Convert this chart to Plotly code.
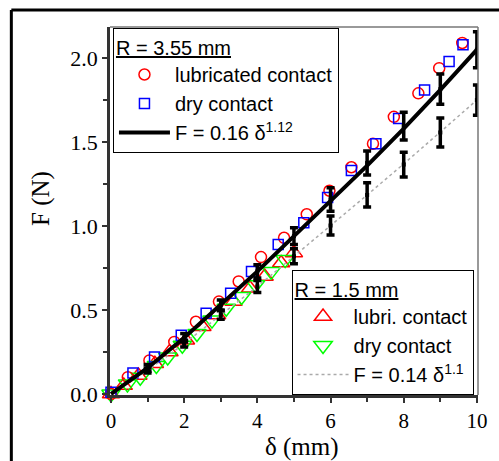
import plotly.graph_objects as go

# ---------------- data ----------------
# R = 3.55 mm
lub355_x = [0, 0.46, 1.05, 1.73, 2.32, 2.95, 3.49, 4.1, 4.73, 5.35, 5.97, 6.57, 7.16, 7.73, 8.4, 8.97, 9.6, 10.05]
lub355_y = [0.0, 0.10, 0.20, 0.31, 0.43, 0.55, 0.67, 0.815, 0.93, 1.07, 1.21, 1.35, 1.49, 1.65, 1.79, 1.94, 2.09, 2.18]
dry355_x = [0, 0.6, 1.19, 1.92, 2.6, 3.27, 3.84, 4.57, 5.27, 5.92, 6.57, 7.24, 7.86, 8.57, 9.24, 9.62]
dry355_y = [0.01, 0.125, 0.22, 0.35, 0.48, 0.60, 0.73, 0.89, 1.02, 1.17, 1.33, 1.49, 1.64, 1.81, 1.98, 2.08]
fit355_x = [0, 1, 2, 3, 4, 5, 6, 7, 8, 9, 10]
fit355_y = [0.0, 0.155, 0.335, 0.53, 0.73, 0.94, 1.15, 1.36, 1.58, 1.81, 2.05]
err355_x = [1, 2, 3, 4, 5, 6, 7, 8, 9, 10]
err355_y = [0.155, 0.335, 0.53, 0.73, 0.94, 1.158, 1.375, 1.595, 1.815, 2.05]
err355_e = [0.02, 0.025, 0.03, 0.04, 0.05, 0.07, 0.071, 0.083, 0.09, 0.107]

# R = 1.5 mm
lub15_x = [0, 0.35, 0.75, 1.2, 1.6, 2.05, 2.5, 2.9, 3.35, 3.8, 4.2, 4.65, 5.0]
lub15_y = [0.0, 0.05, 0.11, 0.18, 0.25, 0.32, 0.40, 0.47, 0.55, 0.63, 0.70, 0.78, 0.84]
dry15_x = [0, 0.45, 0.8, 1.24, 1.55, 1.95, 2.35, 2.76, 3.15, 3.57, 3.95, 4.38, 4.76]
dry15_y = [0.0, 0.06, 0.10, 0.17, 0.22, 0.29, 0.36, 0.44, 0.51, 0.58, 0.65, 0.73, 0.80]
fit15_x = [0, 1, 2, 3, 4, 5, 6, 7, 8, 9, 10]
fit15_y = [0.0, 0.14, 0.30, 0.47, 0.64, 0.82, 1.0, 1.185, 1.37, 1.56, 1.75]
err15_x = [1, 2, 3, 4, 5, 6, 7, 8, 9, 10]
err15_y = [0.14, 0.30, 0.47, 0.64, 0.82, 1.003, 1.185, 1.366, 1.557, 1.75]
err15_e = [0.015, 0.02, 0.025, 0.035, 0.045, 0.057, 0.072, 0.074, 0.086, 0.09]

x_ticks = [0, 2, 4, 6, 8, 10]
y_ticks = [0.0, 0.5, 1.0, 1.5, 2.0]
y_ticklabels = ["0.0", "0.5", "1.0", "1.5", "2.0"]

SERIF = "Liberation Serif, Times New Roman, serif"
SANS = "Liberation Sans, Arial, sans-serif"

W, H = 499, 461
ML, MT, PW, PH = 110, 27, 373, 368


def px_x(xpix):  # window pixel -> paper x
    return (xpix - ML) / PW


def px_y(ypix):  # window pixel -> paper y
    return 1 - (ypix - MT) / PH


fig = go.Figure()

# R = 1.5 mm markers
fig.add_trace(go.Scatter(x=lub15_x, y=lub15_y, mode="markers", name="lubri. contact",
                         marker=dict(symbol="triangle-up-open", size=15, color="#ff0000", line=dict(width=1.5)),
                         cliponaxis=False, legend="legend2", legendrank=1))
fig.add_trace(go.Scatter(x=dry15_x, y=dry15_y, mode="markers", name="dry contact",
                         marker=dict(symbol="triangle-down-open", size=16, color="#00ff00", line=dict(width=1.5)),
                         cliponaxis=False, legend="legend2", legendrank=2))
# R = 3.55 mm markers
fig.add_trace(go.Scatter(x=lub355_x, y=lub355_y, mode="markers", name="lubricated contact",
                         marker=dict(symbol="circle-open", size=11, color="#ff0000", line=dict(width=1.5)),
                         cliponaxis=False, legend="legend", legendrank=1))
fig.add_trace(go.Scatter(x=dry355_x, y=dry355_y, mode="markers", name="dry contact",
                         marker=dict(symbol="square-open", size=10, color="#0000ff", line=dict(width=1.5)),
                         cliponaxis=False, legend="legend", legendrank=2))
# fits
fig.add_trace(go.Scatter(x=fit15_x, y=fit15_y, mode="lines", name="F = 0.14 δ<sup>1.1</sup>",
                         line=dict(color="#aaaaaa", width=1.5, dash="dot"),
                         legend="legend2", legendrank=3))
fig.add_trace(go.Scatter(x=fit355_x, y=fit355_y, mode="lines", name="F = 0.16 δ<sup>1.12</sup>",
                         line=dict(color="black", width=4),
                         cliponaxis=False, legend="legend", legendrank=3))
# error bars
for ex, ey, ee in [(err15_x, err15_y, err15_e), (err355_x, err355_y, err355_e)]:
    fig.add_trace(go.Scatter(x=ex, y=ey, mode="markers", showlegend=False,
                             marker=dict(size=4, color="black", symbol="square"),
                             error_y=dict(type="data", array=ee, visible=True, color="black",
                                          thickness=3.5, width=4)))

legend_common = dict(xanchor="left", yanchor="top", bgcolor="white", bordercolor="black",
                     borderwidth=1, font=dict(family=SANS, size=20, color="black"),
                     tracegroupgap=0, itemwidth=51, traceorder="normal")
fig.update_layout(
    width=W, height=H,
    margin=dict(l=ML, r=W - ML - PW, t=MT, b=H - MT - PH),
    paper_bgcolor="white", plot_bgcolor="white",
    showlegend=True,
    legend=dict(x=px_x(113), y=px_y(28),
                title=dict(text="R = 3.55 mm", font=dict(family=SANS, size=20, color="black", lineposition="under")),
                **legend_common),
    legend2=dict(x=px_x(294), y=px_y(270),
                 title=dict(text="R = 1.5 mm", font=dict(family=SANS, size=20, color="black", lineposition="under")),
                 **legend_common),
)

fig.update_xaxes(range=[-0.027, 10.03], tickvals=x_ticks, ticktext=[str(v) for v in x_ticks],
                 ticks="outside", ticklen=5, tickwidth=1.5, tickcolor="#333333",
                 minor=dict(dtick=1, ticks="outside", ticklen=4, tickwidth=1.5, tickcolor="#333333"),
                 showline=True, linecolor="#333333", linewidth=2.5, mirror=False,
                 showgrid=False, zeroline=False,
                 tickfont=dict(family=SERIF, size=21, color="black"))
fig.update_yaxes(range=[-0.006, 2.185], tickvals=y_ticks, ticktext=y_ticklabels,
                 ticks="outside", ticklen=5, tickwidth=1.5, tickcolor="#333333",
                 minor=dict(dtick=0.25, ticks="outside", ticklen=4, tickwidth=1.5, tickcolor="#333333"),
                 showline=True, linecolor="#333333", linewidth=2.5, mirror=False,
                 showgrid=False, zeroline=False,
                 tickfont=dict(family=SERIF, size=22, color="black"))

# thin top/right frame of the plot area
fig.add_shape(type="line", xref="paper", yref="paper", x0=0, x1=1, y0=1, y1=1,
              line=dict(color="#777777", width=1.5))
fig.add_shape(type="line", xref="paper", yref="paper", x0=1, x1=1, y0=0, y1=1,
              line=dict(color="#777777", width=1.5))
# outer black frame of the figure (left and top edges; right/bottom lie outside the picture)
fig.add_shape(type="line", xref="paper", yref="paper",
              x0=px_x(10), x1=px_x(10), y0=px_y(470), y1=px_y(10),
              line=dict(color="black", width=3), layer="below")
fig.add_shape(type="line", xref="paper", yref="paper",
              x0=px_x(10), x1=px_x(505), y0=px_y(10), y1=px_y(10),
              line=dict(color="black", width=3), layer="below")

# axis titles
fig.add_annotation(text="δ (mm)", xref="paper", yref="paper", x=px_x(305), y=px_y(447),
                   showarrow=False, xanchor="center", yanchor="middle",
                   font=dict(family=SERIF, size=25, color="black"))
fig.add_annotation(text="F (N)", xref="paper", yref="paper", x=px_x(40), y=px_y(198),
                   showarrow=False, xanchor="center", yanchor="middle", textangle=-90,
                   font=dict(family=SERIF, size=25, color="black"))

fig.write_html(
    "out.html",
    config={"displayModeBar": False},
    post_script="document.body.style.margin='0';document.body.style.overflow='hidden';"
                "document.documentElement.style.overflow='hidden';",
)
